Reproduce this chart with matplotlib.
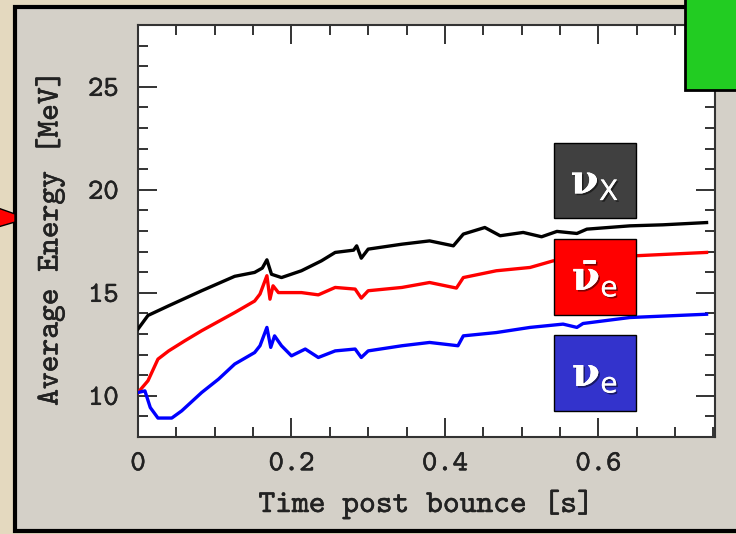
"""Average neutrino energies vs time post bounce (recreated chart)."""

import matplotlib
matplotlib.use("Agg")

import matplotlib.pyplot as plt
import matplotlib.patheffects as pe
from matplotlib.patches import Rectangle, Polygon

W, H = 736, 534

# ---------------------------------------------------------------------------
# Data
# ---------------------------------------------------------------------------

t_nux = [0.0, 0.013, 0.04, 0.083, 0.126, 0.152, 0.162, 0.168, 0.174, 0.187,
         0.213, 0.239, 0.257, 0.281, 0.285, 0.291, 0.300, 0.344, 0.380, 0.411,
         0.424, 0.452, 0.472, 0.502, 0.526, 0.546, 0.572, 0.585, 0.641, 0.684,
         0.741]
e_nux = [13.24, 13.9, 14.37, 15.1, 15.8, 15.99, 16.2, 16.6, 15.9, 15.74,
         16.07, 16.55, 16.96, 17.07, 17.28, 16.68, 17.12, 17.36, 17.52, 17.28,
         17.85, 18.17, 17.77, 17.93, 17.72, 17.98, 17.88, 18.09, 18.25, 18.3,
         18.41]

t_anue = [0.0, 0.013, 0.026, 0.04, 0.061, 0.083, 0.126, 0.152, 0.159, 0.168,
          0.172, 0.176, 0.183, 0.213, 0.235, 0.257, 0.283, 0.291, 0.300, 0.344,
          0.380, 0.415, 0.424, 0.467, 0.511, 0.541, 0.600, 0.650, 0.741]
e_anue = [10.16, 10.73, 11.78, 12.18, 12.67, 13.16, 14.04, 14.6, 14.94, 15.83,
          14.69, 15.34, 15.01, 15.01, 14.9, 15.26, 15.18, 14.74, 15.1, 15.26,
          15.5, 15.23, 15.74, 16.07, 16.23, 16.55, 16.7, 16.8, 16.96]

t_nue = [0.0, 0.009, 0.016, 0.026, 0.044, 0.057, 0.083, 0.105, 0.126, 0.152,
         0.159, 0.168, 0.173, 0.178, 0.187, 0.200, 0.218, 0.235, 0.257, 0.283,
         0.291, 0.300, 0.344, 0.380, 0.417, 0.424, 0.467, 0.511, 0.554, 0.572,
         0.580, 0.641, 0.741]
e_nue = [10.16, 10.24, 9.43, 8.92, 8.92, 9.27, 10.16, 10.81, 11.54, 12.1,
         12.43, 13.32, 12.35, 12.91, 12.43, 11.94, 12.27, 11.86, 12.18, 12.27,
         11.86, 12.18, 12.43, 12.59, 12.43, 12.91, 13.07, 13.32, 13.48, 13.32,
         13.51, 13.8, 13.96]

x_ticks = [0, 0.2, 0.4, 0.6]
x_tick_labels = ["0", "0.2", "0.4", "0.6"]
y_ticks = [10, 15, 20, 25]

# ---------------------------------------------------------------------------
# Style
# ---------------------------------------------------------------------------

FUNDO = "#e4d9bf"
PAINEL = "#d4d0c8"
FONTE = "cmtt10"
ENGROSSA = [pe.withStroke(linewidth=0.35, foreground="#222222")]

plt.rcParams.update({
    "mathtext.fontset": "custom",
    "mathtext.rm": "DejaVu Serif:bold",
    "mathtext.sf": "DejaVu Sans",
})


def fx(px):
    return px / W


def fy(py):
    return 1 - py / H


fig = plt.figure(figsize=(W / 100, H / 100), dpi=100, facecolor=FUNDO)

# gray panel with thick black frame
fig.add_artist(Rectangle((fx(15), fy(531)), fx(740) - fx(15), fy(6.5) - fy(531),
                         transform=fig.transFigure, facecolor=PAINEL,
                         edgecolor="black", linewidth=3, zorder=0))
# red arrow poking in from the left
fig.add_artist(Polygon([(fx(-2), fy(208)), (fx(15), fy(214)), (fx(15), fy(222)),
                        (fx(-2), fy(227))], closed=True, transform=fig.transFigure,
                       facecolor="#ff0000", edgecolor="black", linewidth=1, zorder=1))

ax = fig.add_axes([fx(138), fy(437), fx(715) - fx(138), fy(25) - fy(437)])
ax.set_facecolor("white")

ax.plot(t_nux, e_nux, color="black", linewidth=2.4, zorder=3)
ax.plot(t_anue, e_anue, color="#ff0000", linewidth=2.4, zorder=3)
ax.plot(t_nue, e_nue, color="#0000ff", linewidth=2.4, zorder=3)

ax.set_xlim(0, 0.752)
ax.set_ylim(8, 28)
ax.set_xticks(x_ticks)
ax.set_xticklabels(x_tick_labels)
ax.set_yticks(y_ticks)
ax.set_xticks([i * 0.05 for i in range(16)], minor=True)
ax.set_yticks(range(8, 29), minor=True)
ax.tick_params(which="both", direction="in", top=True, right=True,
               width=1.4, color="#333333")
ax.tick_params(which="major", length=14, labelsize=21)
ax.tick_params(which="minor", length=7.5)
ax.tick_params(axis="y", pad=14)
ax.tick_params(axis="x", pad=11)
for lab in ax.get_xticklabels() + ax.get_yticklabels():
    lab.set_fontfamily(FONTE)
    lab.set_color("#222222")
    lab.set_path_effects(ENGROSSA)
for s in ax.spines.values():
    s.set_linewidth(1.5)
    s.set_color("#333333")

fig.text(fx(426), fy(512), "Time post bounce [s]", ha="center", va="baseline",
         fontsize=23, fontfamily=FONTE, color="#222222", path_effects=ENGROSSA)
fig.text(fx(50), fy(238), "Average Energy [MeV]", ha="center", va="center",
         rotation=90, fontsize=23, fontfamily=FONTE, color="#222222",
         path_effects=ENGROSSA)

# species label boxes
caixas = [
    (143, 218, "#404040", r"$\mathrm{\nu}_{\mathsf{X}}$"),
    (239, 315, "#ff0000", r"$\bar{\mathrm{\nu}}_{\mathsf{e}}$"),
    (335, 411, "#3333cc", r"$\mathrm{\nu}_{\mathsf{e}}$"),
]
sombra = [pe.withSimplePatchShadow(offset=(1.2, -1.2), shadow_rgbFace="black",
                                   alpha=0.5), pe.Normal()]
for topo, base, cor, rotulo in caixas:
    fig.add_artist(Rectangle((fx(554), fy(base)), fx(636) - fx(554), fy(topo) - fy(base),
                             transform=fig.transFigure, facecolor=cor,
                             edgecolor="black", linewidth=1, zorder=5))
    fig.text(fx(595), fy((topo + base) / 2 + 2), rotulo, ha="center", va="center",
             color="white", fontsize=29, zorder=6, path_effects=sombra)

# green box in the top right corner
fig.add_artist(Rectangle((fx(685), fy(90)), fx(760) - fx(685), fy(-10) - fy(90),
                         transform=fig.transFigure, facecolor="#22cc22",
                         edgecolor="black", linewidth=2, zorder=5))

fig.savefig("out.png", dpi=100, facecolor=FUNDO)
